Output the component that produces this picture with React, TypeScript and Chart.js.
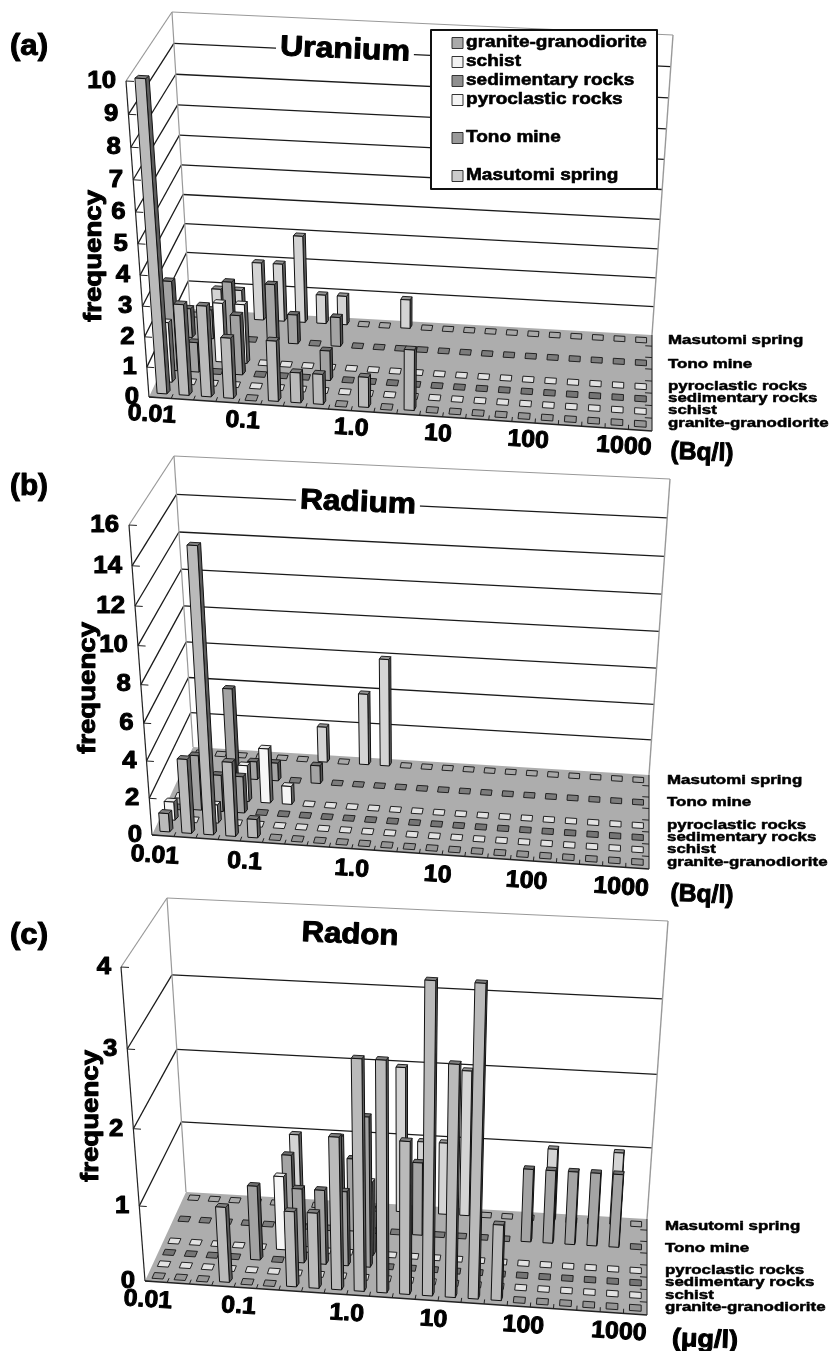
import React, { useEffect, useRef } from "react";
import { Chart, registerables } from "chart.js";

Chart.register(...registerables);

// ---------- data ----------
const binLabels = ["b0","b1","b2","b3","b4","b5","b6","b7","b8","b9","b10","b11","b12","b13","b14","b15","b16","b17","b18","b19","b20","b21"];
const rowLabels = ["granite-granodiorite","schist","sedimentary rocks","pyroclastic rocks","","Tono mine","","Masutomi spring"];
const xTickLabels = ["0.01","0.1","1.0","10","100","1000"];
const xTickBins = [-0.37,3.7,8.5,12.3,16.2,20.3];

const uGranite = [10,3,3,2,0,2,1,1,0,1,0,2,0,0,0,0,0,0,0,0,0,0];
const uSchist  = [2,0,0,0,0,0,0,0,0,0,0,0,0,0,0,0,0,0,0,0,0,0];
const uSedim   = [3,1,0,2,0,0,0,1,0,0,0,0,0,0,0,0,0,0,0,0,0,0];
const uPyro    = [0,0,2,2,0,0,0,0,0,0,0,0,0,0,0,0,0,0,0,0,0,0];
const uTono    = [1,1,2,0,2,1,0,1,0,0,0,0,0,0,0,0,0,0,0,0,0,0];
const uMasu    = [0,1,1,2,2,3,1,1,0,0,1,0,0,0,0,0,0,0,0,0,0,0];

const raGranite = [1,4,15,4,1,0,0,0,0,0,0,0,0,0,0,0,0,0,0,0,0,0];
const raSchist  = [1,0,1,0,0,0,0,0,0,0,0,0,0,0,0,0,0,0,0,0,0,0];
const raSedim   = [0,3,2,2,0,0,0,0,0,0,0,0,0,0,0,0,0,0,0,0,0,0];
const raPyro    = [0,0,0,2,3,1,0,0,0,0,0,0,0,0,0,0,0,0,0,0,0,0];
const raTono    = [0,0,5,1,1,0,1,0,0,0,0,0,0,0,0,0,0,0,0,0,0,0];
const raMasu    = [0,0,0,0,0,0,2,0,4,6,0,0,0,0,0,0,0,0,0,0,0,0];

const rnGranite = [0,0,0,1,0,0,1,1,2,3,3,2,4,3,4,1,0,0,0,0,0,0];
const rnSchist  = [0,0,0,0,0,0,0,0,0,0,0,0,0,0,0,0,0,0,0,0,0,0];
const rnSedim   = [0,0,0,0,1,0,1,1,1,2,0,0,0,0,0,0,0,0,0,0,0,0];
const rnPyro    = [0,0,0,0,0,1,0,0,0,1,0,0,0,0,0,0,0,0,0,0,0,0];
const rnTono    = [0,0,0,0,0,1,0,0,1,0,0,1,0,0,0,0,1,1,1,1,1,0];
const rnMasu    = [0,0,0,0,0,1,0,1,0,0,2,1,1,2,0,0,0,1,0,0,1,0];

// ---------- styles ----------
const FONT = '"Liberation Sans", Arial, sans-serif';
const seriesStyle: Record<string, { front: string; top: string; side: string; mark: string; swatch: string }> = {
  "granite-granodiorite": { front: "#BABABA", top: "#808080", side: "#5E5E5E", mark: "#959595", swatch: "#AAAAAA" },
  "schist": { front: "#F4F4F4", top: "#E6E6E6", side: "#666666", mark: "#E2E2E2", swatch: "#F2F2F2" },
  "sedimentary rocks": { front: "#A2A2A2", top: "#707070", side: "#525252", mark: "#757575", swatch: "#8F8F8F" },
  "pyroclastic rocks": { front: "#F6F6F6", top: "#E8E8E8", side: "#666666", mark: "#E2E2E2", swatch: "#F4F4F4" },
  "Tono mine": { front: "#A4A4A4", top: "#707070", side: "#525252", mark: "#7C7C7C", swatch: "#999999" },
  "Masutomi spring": { front: "#D4D4D4", top: "#969696", side: "#626262", mark: "#A8A8A8", swatch: "#CCCCCC" },
};

type Pt = [number, number];
interface Panel {
  series: number[][];
  yMax: number;
  yStep: number;
  floor: { fl: Pt; fr: Pt; bl: Pt; br: Pt };
  top: { fl: Pt; fr: Pt; bl: Pt; br: Pt };
  panelLabel: { text: string; y: number };
  title: { text: string; x: number; y: number; w: number };
  unit: { text: string; x: number; y: number; w: number };
  rowLabelX: number;
  rowLabelY: number[];
  xTickDrop: number;
  freq: { x: number; y: number };
  legend: boolean;
}

const panels: Panel[] = [
  {
    series: [uGranite, uSchist, uSedim, uPyro, uTono, uMasu],
    yMax: 10, yStep: 1,
    floor: { fl: [149, 397], fr: [652, 431], bl: [190, 309], br: [652, 335] },
    top: { fl: [126, 81], fr: [676, 111], bl: [172, 12], br: [673, 35] },
    panelLabel: { text: "(a)", y: 47 },
    title: { text: "Uranium", x: 345, y: 50, w: 130 },
    unit: { text: "(Bq/l)", x: 702, y: 453, w: 63 },
    rowLabelX: 668, rowLabelY: [423, 410, 398, 386, 364, 340],
    xTickDrop: 17.5, freq: { x: 94, y: 256 }, legend: true,
  },
  {
    series: [raGranite, raSchist, raSedim, raPyro, raTono, raMasu],
    yMax: 16, yStep: 2,
    floor: { fl: [152, 835], fr: [649, 869], bl: [193, 747], br: [649, 775] },
    top: { fl: [129, 525], fr: [673, 554], bl: [174, 456], br: [670, 479] },
    panelLabel: { text: "(b)", y: 487 },
    title: { text: "Radium", x: 358, y: 503, w: 116 },
    unit: { text: "(Bq/l)", x: 702, y: 895, w: 63 },
    rowLabelX: 667, rowLabelY: [862, 849, 837, 825, 802, 780],
    xTickDrop: 20.5, freq: { x: 88, y: 688 }, legend: false,
  },
  {
    series: [rnGranite, rnSchist, rnSedim, rnPyro, rnTono, rnMasu],
    yMax: 4, yStep: 1,
    floor: { fl: [145, 1281], fr: [647, 1315], bl: [186, 1192], br: [647, 1219] },
    top: { fl: [121, 967], fr: [671, 997], bl: [167, 898], br: [668, 921] },
    panelLabel: { text: "(c)", y: 936 },
    title: { text: "Radon", x: 350, y: 935, w: 97 },
    unit: { text: "(\u03bcg/l)", x: 705, y: 1340, w: 66 },
    rowLabelX: 665, rowLabelY: [1307, 1295, 1282, 1270, 1248, 1226],
    xTickDrop: 19, freq: { x: 91, y: 1116 }, legend: false,
  },
];

const legendEntries = [
  { label: rowLabels[0], y: 43 },
  { label: rowLabels[1], y: 62 },
  { label: rowLabels[2], y: 81 },
  { label: rowLabels[3], y: 100 },
  { label: rowLabels[5], y: 138 },
  { label: rowLabels[7], y: 176 },
];

// ---------- drawing helpers ----------
function text(
  ctx: CanvasRenderingContext2D, s: string, x: number, y: number,
  o: { size: number; sx?: number; w?: number; rot?: number; align?: CanvasTextAlign; stroke?: number }
) {
  ctx.save();
  ctx.font = `bold ${o.size}px ${FONT}`;
  ctx.fillStyle = "#000";
  ctx.strokeStyle = "#000";
  ctx.lineJoin = "round";
  ctx.textAlign = o.align || "center";
  ctx.textBaseline = "middle";
  ctx.translate(x, y);
  if (o.rot) ctx.rotate((o.rot * Math.PI) / 180);
  const sx = o.w ? o.w / ctx.measureText(s).width : o.sx || 1;
  ctx.scale(sx, 1);
  ctx.fillText(s, 0, 0);
  ctx.lineWidth = o.stroke ?? 1;
  ctx.strokeText(s, 0, 0);
  ctx.restore();
}

function poly(ctx: CanvasRenderingContext2D, pts: Pt[], fill?: string, stroke?: string, lw = 1) {
  ctx.beginPath();
  pts.forEach((p, i) => (i ? ctx.lineTo(p[0], p[1]) : ctx.moveTo(p[0], p[1])));
  ctx.closePath();
  if (fill) { ctx.fillStyle = fill; ctx.fill(); }
  if (stroke) { ctx.strokeStyle = stroke; ctx.lineWidth = lw; ctx.lineJoin = "round"; ctx.stroke(); }
}

function line(ctx: CanvasRenderingContext2D, a: Pt, b: Pt, color: string, lw = 1) {
  ctx.beginPath();
  ctx.moveTo(a[0], a[1]);
  ctx.lineTo(b[0], b[1]);
  ctx.strokeStyle = color;
  ctx.lineWidth = lw;
  ctx.stroke();
}

function makePlugin(p: Panel) {
  const bil = (q: Panel["floor"], u: number, v: number): Pt => {
    const x0 = q.fl[0] + (q.fr[0] - q.fl[0]) * u, y0 = q.fl[1] + (q.fr[1] - q.fl[1]) * u;
    const x1 = q.bl[0] + (q.br[0] - q.bl[0]) * u, y1 = q.bl[1] + (q.br[1] - q.bl[1]) * u;
    return [x0 + (x1 - x0) * v, y0 + (y1 - y0) * v];
  };
  // u: along the bins, v: into the depth, w: height. All are decimals of the chart's own scales.
  const proj = (u: number, v: number, w: number): Pt => {
    const uu = u - 0.03 * u * (1 - u);
    const vv = v + 0.08 * v * (1 - v);
    const ww = w - 0.06 * w * (1 - w);
    const a = bil(p.floor, uu, vv), b = bil(p.top, uu, vv);
    return [a[0] + (b[0] - a[0]) * ww, a[1] + (b[1] - a[1]) * ww];
  };

  return {
    id: "depth3d",
    beforeDatasetsDraw(chart: any) {
      const ctx: CanvasRenderingContext2D = chart.ctx;
      const { x, y, z } = chart.scales;
      const U = (i: number) => (x.getPixelForValue(i) - x.left) / x.width;
      const W = (val: number) => (y.bottom - y.getPixelForValue(val)) / y.height;
      const V = (r: number) => (z.bottom - z.getPixelForValue(r)) / z.height;
      const binW = 1 / binLabels.length, rowD = 1 / rowLabels.length;
      const yTicks: any[] = y.ticks;

      ctx.save();
      ctx.lineCap = "butt";

      // walls
      for (const t of yTicks) {
        const w = W(t.value);
        if (t.value === 0) continue;
        const col = t.value === p.yMax ? "#999999" : "#1A1A1A";
        const lw = t.value === p.yMax ? 1.2 : 1.3;
        line(ctx, proj(0, 0, w), proj(0, 1, w), col, lw);
        line(ctx, proj(0, 1, w), proj(1, 1, w), col, lw);
      }
      line(ctx, proj(0, 1, 0), proj(0, 1, 1), "#999999", 1.2);
      line(ctx, proj(1, 1, 0), proj(1, 1, 1), "#999999", 1.4);

      // floor
      poly(ctx, [proj(0, 0, 0), proj(1, 0, 0), proj(1, 1, 0), proj(0, 1, 0)], "#ADADAD");
      line(ctx, proj(0, 0, 0), proj(0, 0, 1), "#222222", 1.2);
      line(ctx, proj(0, 0, 0), proj(1, 0, 0), "#222222", 1.6);
      line(ctx, proj(1, 0, 0), proj(1, 1, 0), "#333333", 1.2);
      for (let i = 1; i < binLabels.length; i++) {
        const u = i * binW;
        line(ctx, proj(u, 0, 0), proj(u, 0.045, 0), "#222222", 1);
      }
      for (let r = 1; r < rowLabels.length; r++) {
        const v = r * rowD;
        line(ctx, proj(1, v, 0), proj(0.986, v, 0), "#222222", 1);
      }
      for (const t of yTicks) {
        const w = W(t.value);
        line(ctx, proj(0, 0, w), proj(0.015, 0, w), "#222222", 1);
      }

      // columns, back row first
      const order = chart.data.datasets
        .map((d: any) => ({ d, r: rowLabels.indexOf(d.label) }))
        .sort((a: any, b: any) => b.r - a.r);
      for (const { d, r } of order) {
        const st = seriesStyle[d.label];
        const vc = V(r);
        d.data.forEach((val: number, i: number) => {
          const uc = U(i);
          const h = W(val);
          if (val === 0) {
            const hu = 0.25 * binW, hv = 0.24 * rowD;
            poly(ctx, [proj(uc - hu, vc - hv, 0), proj(uc + hu, vc - hv, 0), proj(uc + hu, vc + hv, 0), proj(uc - hu, vc + hv, 0)], st.mark, "#222222", 1);
            return;
          }
          const hu = 0.22 * binW, hv = 0.15 * rowD;
          const shift = 1.2 * (1 - uc) + 0.5;
          const sh = (q: Pt): Pt => [q[0] + shift, q[1]];
          const fl0 = proj(uc - hu, vc - hv, 0), fr0 = proj(uc + hu, vc - hv, 0);
          const fl1 = proj(uc - hu, vc - hv, h), fr1 = proj(uc + hu, vc - hv, h);
          const br0 = sh(proj(uc + hu, vc + hv, 0)), br1 = sh(proj(uc + hu, vc + hv, h));
          const bl1 = sh(proj(uc - hu, vc + hv, h));
          poly(ctx, [fr0, br0, br1, fr1], st.side, "#111111", 1);
          poly(ctx, [fl1, fr1, br1, bl1], st.top, "#222222", 1);
          poly(ctx, [fl0, fr0, fr1, fl1], st.front, "#111111", 1);
        });
      }

      // y tick labels
      for (const t of yTicks) {
        const q = proj(0, 0, W(t.value));
        text(ctx, String(t.label), q[0] - 10, q[1] + 0.5, { size: 23, sx: 1.12, align: "right" });
      }
      // x tick labels
      xTickLabels.forEach((lab, i) => {
        const q = proj(U(xTickBins[i]), 0, 0);
        text(ctx, lab, q[0], q[1] + p.xTickDrop, { size: 24, sx: 1.04, rot: 3.5 });
      });
      // row labels
      const rows = rowLabels.filter((s) => s !== "");
      rows.forEach((lab, i) => {
        text(ctx, lab, p.rowLabelX, p.rowLabelY[i], { size: 13, sx: 1.3, align: "left", stroke: 0.5 });
      });

      // unit, panel letter, axis name
      text(ctx, p.unit.text, p.unit.x, p.unit.y, { size: 25, w: p.unit.w, rot: 2 });
      text(ctx, p.panelLabel.text, 29, p.panelLabel.y, { size: 29, w: 38, stroke: 1 });
      ctx.save();
      ctx.translate(p.freq.x, p.freq.y);
      ctx.rotate(-Math.PI / 2);
      text(ctx, "frequency", 0, 0, { size: 24, w: 132, stroke: 1 });
      ctx.restore();

      // title with white backing that interrupts the wall line
      ctx.save();
      ctx.translate(p.title.x, p.title.y);
      ctx.rotate((2.4 * Math.PI) / 180);
      ctx.fillStyle = "#FFFFFF";
      ctx.fillRect(-p.title.w / 2 - 4, -14, p.title.w + 8, 28);
      ctx.restore();
      text(ctx, p.title.text, p.title.x, p.title.y, { size: 29, w: p.title.w, rot: 2.4, stroke: 1 });

      // legend
      if (p.legend) {
        ctx.fillStyle = "#FFFFFF";
        ctx.fillRect(431, 30, 226, 159);
        ctx.strokeStyle = "#111111";
        ctx.lineWidth = 2;
        ctx.strokeRect(431, 30, 226, 159);
        for (const e of legendEntries) {
          ctx.fillStyle = seriesStyle[e.label].swatch;
          ctx.fillRect(452, e.y - 5.5, 11, 11);
          ctx.strokeStyle = "#333333";
          ctx.lineWidth = 1;
          ctx.strokeRect(452, e.y - 5.5, 11, 11);
          text(ctx, e.label, 466, e.y - 1, { size: 17, sx: 1.12, align: "left", stroke: 0.6 });
        }
      }
      ctx.restore();
      return false;
    },
  };
}

function PanelChart({ panel }: { panel: Panel }) {
  const ref = useRef<HTMLCanvasElement>(null);
  useEffect(() => {
    const names = rowLabels.filter((s) => s !== "");
    const chart = new Chart(ref.current as HTMLCanvasElement, {
      type: "bar",
      data: {
        labels: binLabels,
        datasets: panel.series.map((values, i) => ({
          label: names[i],
          data: values,
          backgroundColor: seriesStyle[names[i]].front,
        })),
      },
      options: {
        responsive: false,
        animation: false,
        layout: { padding: 0 },
        plugins: { legend: { display: false }, title: { display: false }, tooltip: { enabled: false } },
        scales: {
          x: { type: "category", display: false },
          y: { type: "linear", display: false, min: 0, max: panel.yMax, ticks: { stepSize: panel.yStep } },
          z: { type: "category", axis: "y", display: false, labels: rowLabels, offset: true, reverse: true },
        },
      } as any,
      plugins: [makePlugin(panel)],
    });
    return () => chart.destroy();
  }, [panel]);
  return (
    <canvas
      ref={ref}
      width={832}
      height={1351}
      style={{ position: "absolute", left: 0, top: 0, width: 832, height: 1351, filter: "blur(0.35px)" }}
    />
  );
}

export default function App() {
  return (
    <div style={{ position: "absolute", left: 0, top: 0, width: 832, height: 1351, background: "#fff", overflow: "hidden" }}>
      {panels.map((p) => (
        <PanelChart key={p.panelLabel.text} panel={p} />
      ))}
    </div>
  );
}
